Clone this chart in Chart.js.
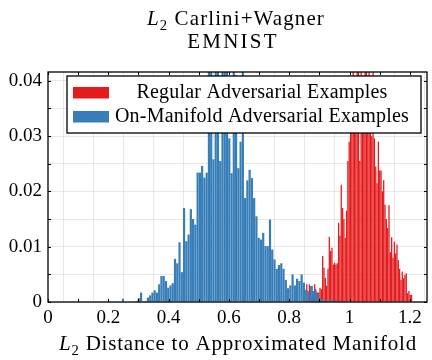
<!DOCTYPE html>
<html><head><meta charset="utf-8">
<script src="https://cdn.jsdelivr.net/npm/chart.js@4/dist/chart.umd.min.js"></script>
<style>html,body{margin:0;padding:0;background:#fff}#wrap{width:432px;height:360px}</style>
</head><body><div id="wrap"><canvas id="c" width="432" height="360"></canvas></div>
<script>
const titleLines = [
  [{t:'L', i:true}, {t:'2', sub:true}, {t:' Carlini+Wagner'}],
  [{t:'EMNIST'}]
];
const xAxisTitle = [{t:'L', i:true}, {t:'2', sub:true}, {t:' Distance to Approximated Manifold'}];
const seriesNames = ['Regular Adversarial Examples', 'On-Manifold Adversarial Examples'];
const xTickLabels = ['0', '0.2', '0.4', '0.6', '0.8', '1', '1.2'];
const yTickLabels = ['0', '0.01', '0.02', '0.03', '0.04'];

// Regular adversarial examples: histogram bin start, bin width, bin heights
const regularStart = 0.856;
const regularWidth = 0.0044;
const regular = [
  0.0032, 0.0020, 0.0032, 0.0011, 0.0029, 0.0014, 0.0032, 0.0020, 0.0017, 0.0017,
  0.0026, 0.0023, 0.0083, 0.0062, 0.0044, 0.0030, 0.0060, 0.0118, 0.0092, 0.0098,
  0.0068, 0.0071, 0.0068, 0.0070, 0.0143, 0.0120, 0.0212, 0.0170, 0.0150, 0.0116,
  0.0165, 0.0255, 0.0290, 0.0340, 0.0360, 0.0450, 0.0380, 0.0310, 0.0450, 0.0420,
  0.0255, 0.0450, 0.0400, 0.0330, 0.0450, 0.0470, 0.0400, 0.0450, 0.0400, 0.0300,
  0.0420, 0.0296, 0.0245, 0.0215, 0.0290, 0.0238, 0.0238, 0.0200, 0.0220, 0.0176,
  0.0150, 0.0134, 0.0175, 0.0090, 0.0117, 0.0080, 0.0109, 0.0088, 0.0104, 0.0076,
  0.0060, 0.0040, 0.0055, 0.0043, 0.0049, 0.0052, 0.0016, 0.0020, 0.0013, 0.0013
];

// On-manifold adversarial examples
const onManifoldStart = 0.245;
const onManifoldWidth = 0.0075;
const onManifold = [
  0.0006, 0, 0, 0, 0, 0, 0.0002, 0.0007, 0.0017, 0,
  0.0002, 0.0008, 0.0012, 0.0017, 0.0021, 0.0017, 0.0032, 0.0047, 0.0047, 0.0038,
  0.0026, 0.0030, 0.0034, 0.0078, 0.0070, 0.0108, 0.0054, 0.0170, 0.0110, 0.0122,
  0.0168, 0.0150, 0.0140, 0.0234, 0.0234, 0.0246, 0.0225, 0.0234, 0.0430, 0.0450,
  0.0258, 0.0440, 0.0460, 0.0255, 0.0440, 0.0470, 0.0430, 0.0296, 0.0233, 0.0440,
  0.0410, 0.0242, 0.0290, 0.0430, 0.0188, 0.0220, 0.0239, 0.0224, 0.0188, 0.0155,
  0.0116, 0.0113, 0.0125, 0.0101, 0.0101, 0.0149, 0.0095, 0.0077, 0.0060, 0.0067,
  0.0070, 0.0060, 0.0040, 0.0025, 0.0030, 0.0050, 0.0030, 0.0042, 0.0038, 0.0050,
  0.0035, 0.0022, 0.0014, 0.0029, 0.0020, 0.0024, 0.0014, 0.0008, 0.0005, 0.0003,
  0.0004, 0.0002, 0.0004, 0.0002, 0.0004, 0.0001, 0.0003, 0, 0.0002, 0.0001
];

const FONT = '"Liberation Serif", "DejaVu Serif", serif';
Chart.defaults.font.family = FONT;
Chart.defaults.color = '#000';

function toBins(start, width, vals) {
  return vals.map((v, i) => ({x: start + (i + 0.5) * width, y: v}));
}
function labelFor(list, v) {
  const s = list.find(s => Math.abs(parseFloat(s) - v) < 1e-6);
  return s === undefined ? '' : s;
}

function drawRich(ctx, parts, cx, baseline, size, spacing) {
  const fontFor = p => (p.i ? 'italic ' : '') + (p.sub ? size * 0.7 : size) + 'px ' + FONT;
  ctx.letterSpacing = spacing + 'px';
  let total = 0;
  const ws = parts.map(p => { ctx.font = fontFor(p); const w = ctx.measureText(p.t).width; total += w; return w; });
  let x = cx - total / 2;
  ctx.textAlign = 'left';
  ctx.textBaseline = 'alphabetic';
  ctx.fillStyle = '#000';
  parts.forEach((p, k) => {
    ctx.font = fontFor(p);
    ctx.fillText(p.t, x, baseline + (p.sub ? size * 0.22 : 0));
    x += ws[k];
  });
  ctx.letterSpacing = '0px';
}

const decor = {
  id: 'decor',
  afterDraw(chart) {
    const ctx = chart.ctx;
    const a = chart.chartArea;
    const xs = chart.scales.x, ys = chart.scales.y;
    ctx.save();
    // inward tick marks
    ctx.strokeStyle = '#000';
    ctx.lineWidth = 1;
    xs.ticks.forEach(t => {
      const p = Math.round(xs.getPixelForValue(t.value)) + 0.5;
      ctx.beginPath();
      ctx.moveTo(p, a.bottom); ctx.lineTo(p, a.bottom - 3);
      ctx.moveTo(p, a.top); ctx.lineTo(p, a.top + 3);
      ctx.stroke();
    });
    ys.ticks.forEach(t => {
      const p = Math.round(ys.getPixelForValue(t.value)) + 0.5;
      ctx.beginPath();
      ctx.moveTo(a.left, p); ctx.lineTo(a.left + 3, p);
      ctx.moveTo(a.right, p); ctx.lineTo(a.right - 3, p);
      ctx.stroke();
    });
    // frame
    ctx.lineWidth = 1.3;
    ctx.strokeRect(a.left, a.top, a.right - a.left, a.bottom - a.top);
    // legend
    const lx = 67, ly = 76, lw = 354, lh = 57;
    ctx.fillStyle = '#fff';
    ctx.fillRect(lx, ly, lw, lh);
    ctx.lineWidth = 1.3;
    ctx.strokeRect(lx, ly, lw, lh);
    const ds = chart.data.datasets;
    const rows = [{y: 87, base: 98}, {y: 111, base: 122}];
    ds.forEach((d, k) => {
      ctx.fillStyle = d.backgroundColor;
      ctx.fillRect(73, rows[k].y, 36, 11.5);
      ctx.fillStyle = '#000';
      ctx.font = '20px ' + FONT;
      ctx.letterSpacing = '0.2px';
      ctx.textAlign = 'center';
      ctx.textBaseline = 'alphabetic';
      ctx.fillText(d.label, 262, rows[k].base);
      ctx.letterSpacing = '0px';
    });
    // titles
    drawRich(ctx, titleLines[0], 236, 25, 21, 1.1);
    drawRich(ctx, titleLines[1], 233, 48, 21, 2.2);
    drawRich(ctx, xAxisTitle, 238, 350, 21, 0.8);
    ctx.restore();
  }
};

const gridColor = 'rgba(200,200,200,0.42)';
new Chart(document.getElementById('c').getContext('2d'), {
  type: 'bar',
  data: {
    datasets: [
      {label: seriesNames[0], data: toBins(regularStart, regularWidth, regular),
       backgroundColor: '#e41a1c', xAxisID: 'xr', order: 2, grouped: false,
       barPercentage: 0.97, categoryPercentage: 1, borderWidth: 0},
      {label: seriesNames[1], data: toBins(onManifoldStart, onManifoldWidth, onManifold),
       backgroundColor: '#377eb8', xAxisID: 'x', order: 1, grouped: false,
       barPercentage: 0.97, categoryPercentage: 1, borderWidth: 0}
    ]
  },
  options: {
    responsive: false, animation: false, events: [],
    layout: {padding: {top: 72, right: 5, left: 0, bottom: 0}},
    plugins: {legend: {display: false}, tooltip: {enabled: false}, title: {display: false}},
    scales: {
      x: {type: 'linear', min: 0, max: 1.257, offset: false, position: 'bottom', z: 1,
          grid: {color: gridColor, drawTicks: false, lineWidth: 1},
          border: {display: false},
          ticks: {stepSize: 0.1, autoSkip: false, maxRotation: 0, minRotation: 0, includeBounds: false,
                  padding: 5, font: {size: 19}, color: '#000',
                  callback: v => labelFor(xTickLabels, v)},
          afterFit: s => { s.height = 58; }},
      xr: {type: 'linear', min: 0, max: 1.257, offset: false, display: false},
      y: {type: 'linear', min: 0, max: 0.0416, z: 1,
          grid: {color: gridColor, drawTicks: false, lineWidth: 1},
          border: {display: false},
          ticks: {stepSize: 0.005, autoSkip: false, includeBounds: false, padding: 6,
                  font: {size: 19}, color: '#000',
                  callback: v => labelFor(yTickLabels, v)},
          afterFit: s => { s.width = 48; }}
    }
  },
  plugins: [decor]
});
</script></body></html>
